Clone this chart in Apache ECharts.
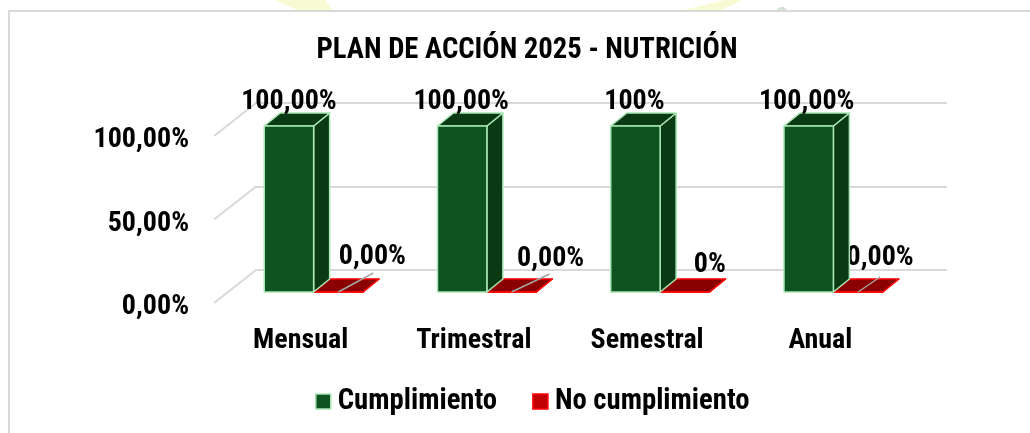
<!DOCTYPE html>
<html>
<head>
<meta charset="utf-8">
<style>
  html, body { margin: 0; padding: 0; background: #fff; }
  #main { width: 1030px; height: 433px; }
</style>
<script src="https://cdn.jsdelivr.net/npm/echarts@6/dist/echarts.min.js"></script>
</head>
<body>
<div id="main"></div>
<script>
const chartTitle = 'PLAN DE ACCIÓN 2025 - NUTRICIÓN';
const categories = ['Mensual', 'Trimestral', 'Semestral', 'Anual'];
const cumplimiento = [100, 100, 100, 100];
const noCumplimiento = [0, 0, 0, 0];
const cumplimientoLabels = ['100,00%', '100,00%', '100%', '100,00%'];
const noCumplimientoLabels = ['0,00%', '0,00%', '0%', '0,00%'];
const tickValues = [0, 50, 100];
const tickLabels = ['0,00%', '50,00%', '100,00%'];

const font = '"Roboto Condensed", "Liberation Sans", Arial, sans-serif';
const fontSize = 28;
const bigFontSize = 28.7;

// label nudges around each bar, the source chart placed them by hand
const greenNudge = [[0, -24], [-1, -24], [-1, -24], [-2, -24]];
const redNudge = [[34, -35], [39, -33], [25, -27], [22, -34]];
const leaderEnd = [[35, -19], [38, -18], null, [22, -15]];

const depth = [16, -13];
const wallDepth = [42, -33];
const labelDrop = 4; // tick labels sit a little under their wall lines
const barShare = 0.285;

function poly(points, fill, stroke) {
    return {
        type: 'polygon',
        shape: {points: points},
        style: {fill: fill, stroke: stroke, lineWidth: 1.5, lineJoin: 'round'}
    };
}

// one renderItem per series, side: -1 is left of the group centre, 0 is right of it
function bar3d(side, colors, labels, nudge, leaders) {
    return function (params, api) {
        const i = api.value(0);
        const centre = api.coord([i, 0]);
        const top = api.coord([i, api.value(1)]);
        const w = api.size([1, 0])[0] * barShare;
        const x0 = centre[0] + side * w;
        const x1 = x0 + w;
        const y0 = centre[1];
        const y1 = top[1];
        const [dx, dy] = depth;
        const children = [
            poly([[x1, y1], [x1 + dx, y1 + dy], [x1 + dx, y0 + dy], [x1, y0]], colors.side, colors.line),
            poly([[x0, y1], [x0 + dx, y1 + dy], [x1 + dx, y1 + dy], [x1, y1]], colors.top, colors.line),
            poly([[x0, y1], [x1, y1], [x1, y0], [x0, y0]], colors.front, colors.line)
        ];
        const mid = (x0 + x1) / 2;
        if (leaders && leaders[i]) {
            children.push({
                type: 'line',
                shape: {x1: mid, y1: y0, x2: mid + leaders[i][0], y2: y0 + leaders[i][1]},
                style: {stroke: '#a6a6a6', lineWidth: 1.5}
            });
        }
        children.push({
            type: 'text',
            style: {
                text: labels[i],
                x: mid + nudge[i][0],
                y: y1 + nudge[i][1],
                align: 'center',
                verticalAlign: 'middle',
                fontFamily: font,
                fontWeight: 'bold',
                fontSize: fontSize,
                fill: '#000'
            }
        });
        return {type: 'group', children: children};
    };
}

// side wall of the 3D box, from the front plane back to the rear wall
function wallLine(params, api) {
    const y = api.coord([0, api.value(0)])[1] - labelDrop;
    const x = params.coordSys.x;
    return {
        type: 'line',
        shape: {x1: x, y1: y, x2: x + wallDepth[0], y2: y + wallDepth[1]},
        style: {stroke: '#d9d9d9', lineWidth: 2}
    };
}

const valueAxisBase = {type: 'value', min: 0, max: 100, interval: 50};
const categoryAxisBase = {type: 'category', data: categories};
const hiddenParts = {axisLine: {show: false}, axisTick: {show: false}, axisLabel: {show: false}};

const greenColors = {front: '#0f5420', side: '#0a3a13', top: '#0a3a13', line: '#a9e6b4'};
const redColors = {front: '#8b0000', side: '#8b0000', top: '#8b0000', line: '#ff0000'};

const myChart = echarts.init(document.getElementById('main'));
myChart.setOption({
    animation: false,
    backgroundColor: '#fff',
    title: {
        text: chartTitle,
        left: 522,
        top: 31,
        textAlign: 'center',
        textStyle: {fontFamily: font, fontWeight: 'bold', fontSize: bigFontSize, color: '#000'}
    },
    legend: {
        left: 310,
        top: 382,
        itemWidth: 15,
        itemHeight: 15,
        itemGap: 35,
        icon: 'rect',
        textStyle: {fontFamily: font, fontWeight: 'bold', fontSize: bigFontSize, color: '#000', padding: [0, 0, 0, 2]},
        data: [
            {name: 'Cumplimiento', itemStyle: {color: '#0f5420', borderColor: '#a9e6b4', borderWidth: 1.5}},
            {name: 'No cumplimiento', itemStyle: {color: '#c00000', borderColor: '#ff0000', borderWidth: 1.5}}
        ]
    },
    graphic: [
        // faint watermark peeking out above the frame
        {type: 'polygon', silent: true, shape: {points: [[275, 0], [325, 0], [333, 10], [297, 10]]},
            style: {fill: '#f8fad4'}},
        {type: 'polygon', silent: true, shape: {points: [[725, 0], [742, 0], [722, 10], [683, 10]]},
            style: {fill: '#f8fad4'}},
        {type: 'polygon', silent: true, shape: {points: [[780, 7], [784, 7], [787, 10], [776, 10]]},
            style: {fill: '#cfe3d4'}},
        // frame of the pasted chart, only top and left edges show
        {type: 'rect', silent: true, shape: {x: 8, y: 10, width: 1022, height: 2}, style: {fill: '#d9d9d9'}},
        {type: 'rect', silent: true, shape: {x: 8, y: 10, width: 2, height: 423}, style: {fill: '#d9d9d9'}}
    ],
    grid: [
        {left: 214, right: 123, top: 136 + labelDrop, bottom: 130 - labelDrop},
        {left: 255, right: 83, top: 103, bottom: 163},
        {left: 227, right: 110, top: 126, bottom: 141}
    ],
    xAxis: [
        {
            ...categoryAxisBase, gridIndex: 0,
            axisLine: {show: false}, axisTick: {show: false},
            axisLabel: {margin: 24 - labelDrop, fontFamily: font, fontWeight: 'bold', fontSize: fontSize, color: '#000'}
        },
        {...categoryAxisBase, gridIndex: 1, show: false},
        {...categoryAxisBase, gridIndex: 2, show: false}
    ],
    yAxis: [
        {
            ...valueAxisBase, gridIndex: 0,
            axisLine: {show: false}, axisTick: {show: false}, splitLine: {show: false},
            axisLabel: {
                margin: 25,
                fontFamily: font, fontWeight: 'bold', fontSize: fontSize, color: '#000',
                formatter: value => tickLabels[tickValues.indexOf(value)]
            }
        },
        {
            ...valueAxisBase, gridIndex: 1, ...hiddenParts,
            splitLine: {show: true, lineStyle: {color: '#d9d9d9', width: 2}}
        },
        {...valueAxisBase, gridIndex: 2, show: false}
    ],
    series: [
        {
            type: 'custom',
            name: 'wall',
            xAxisIndex: 0,
            yAxisIndex: 0,
            clip: false,
            silent: true,
            renderItem: wallLine,
            encode: {y: 0},
            data: tickValues.map(v => [v])
        },
        {
            type: 'custom',
            name: 'No cumplimiento',
            xAxisIndex: 2,
            yAxisIndex: 2,
            clip: false,
            z: 3,
            renderItem: bar3d(0, redColors, noCumplimientoLabels, redNudge, leaderEnd),
            encode: {x: 0, y: 1},
            data: noCumplimiento.map((v, i) => [i, v])
        },
        {
            type: 'custom',
            name: 'Cumplimiento',
            xAxisIndex: 2,
            yAxisIndex: 2,
            clip: false,
            z: 4,
            renderItem: bar3d(-1, greenColors, cumplimientoLabels, greenNudge, null),
            encode: {x: 0, y: 1},
            data: cumplimiento.map((v, i) => [i, v])
        }
    ]
});
</script>
</body>
</html>
